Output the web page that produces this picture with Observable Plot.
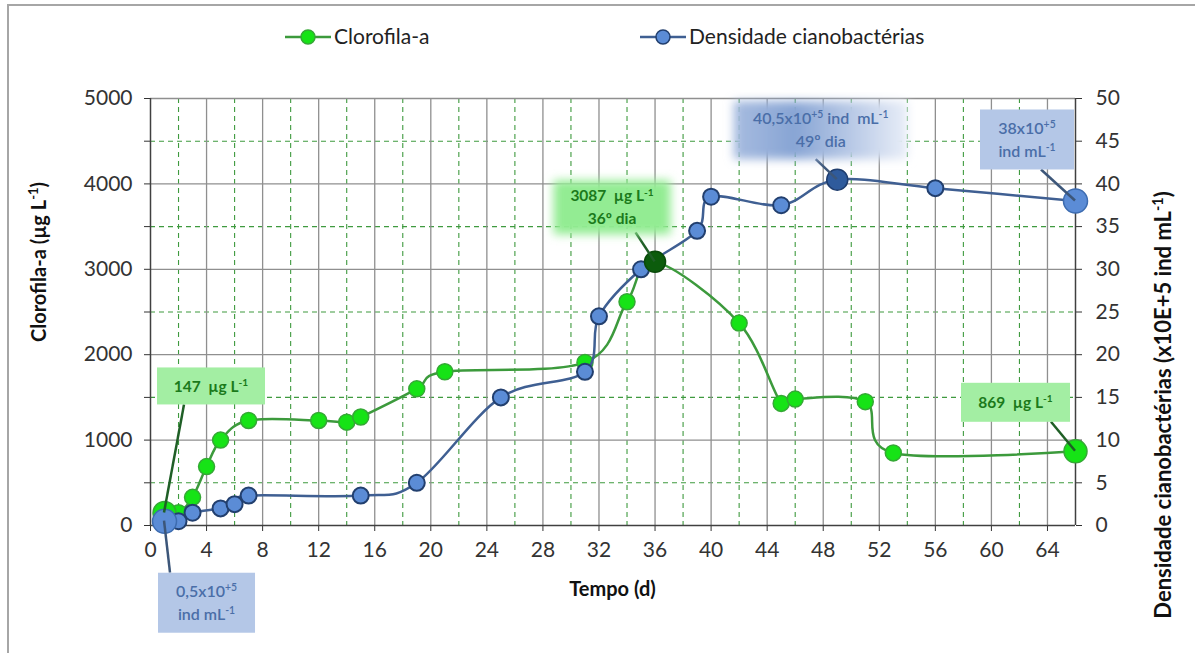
<!DOCTYPE html>
<html><head><meta charset="utf-8">
<script src="https://cdn.jsdelivr.net/npm/d3@7"></script>
<script src="https://cdn.jsdelivr.net/npm/@observablehq/plot@0.6"></script>
<style>
body{margin:0;background:#fff;}
#wrap{position:relative;width:1195px;height:653px;overflow:hidden;font-family:Lato,sans-serif;background:#fff;}
#frame{position:absolute;left:7px;top:4px;width:1300px;height:800px;border-left:2px solid #a6a6a6;border-top:2px solid #a6a6a6;}
#chart{position:absolute;left:0;top:0;}
</style></head><body>
<div id="wrap"><div id="frame"></div><div id="chart"></div></div>
<script>
// ---- data ----
const chlDays = [1, 2, 3, 4, 5, 7, 12, 14, 15, 19, 21, 31, 34, 36, 42, 45, 46, 51, 53, 66];
const chlValues = [147, 150, 330, 690, 1000, 1230, 1230, 1210, 1270, 1600, 1800, 1910, 2620, 3087, 2370, 1430, 1480, 1450, 850, 869];
const cyDays = [1, 2, 3, 5, 6, 7, 15, 19, 25, 31, 32, 35, 39, 40, 45, 49, 56, 66];
const cyValues = [0.5, 0.5, 1.5, 2, 2.5, 3.5, 3.5, 5, 15, 18, 24.5, 30, 34.5, 38.5, 37.5, 40.5, 39.5, 38];
const xTicks = [0, 4, 8, 12, 16, 20, 24, 28, 32, 36, 40, 44, 48, 52, 56, 60, 64];
const xMinor = [2, 6, 10, 14, 18, 22, 26, 30, 34, 38, 42, 46, 50, 54, 58, 62];
const yLeftTicks = [0, 1000, 2000, 3000, 4000, 5000];
const yLeftMinor = [500, 1500, 2500, 3500, 4500];
const yRightTicks = [0, 5, 10, 15, 20, 25, 30, 35, 40, 45, 50];
const seriesNames = ["Clorofila-a", "Densidade cianobactérias"];
const chlBig = [1, 66], chlPeak = [36];
const cyBig = [1, 66], cyPeak = [49];
const notes = [
  {series: "chl", day: 1, lines: ["147  µg L^{-1}"]},
  {series: "chl", day: 36, lines: ["3087  µg L^{-1}", "36º dia"]},
  {series: "cy", day: 49, lines: ["40,5x10^{+5} ind  mL^{-1}", "49º dia"]},
  {series: "cy", day: 66, lines: ["38x10^{+5}", "ind mL^{-1}"]},
  {series: "cy", day: 1, lines: ["0,5x10^{+5}", "ind mL^{-1}"]},
  {series: "chl", day: 66, lines: ["869  µg L^{-1}"]}
];
const K = 100; // right axis (0–50) mapped onto left axis (0–5000)

const chl = chlDays.map((d, i) => ({day: d, v: chlValues[i], raw: chlValues[i]}));
const cy = cyDays.map((d, i) => ({day: d, v: cyValues[i] * K, raw: cyValues[i]}));

const G_LINE = "#3c9a3c", G_FILL = "#16e316", G_STROKE = "#35a835";
const B_LINE = "#3f5f92", B_FILL = "#5b8cd6", B_STROKE = "#223f6e";

const plot = Plot.plot({
  width: 1195, height: 653,
  marginLeft: 150, marginRight: 120, marginTop: 98, marginBottom: 128,
  x: {domain: [0, 66]},
  y: {domain: [0, 5000]},
  style: {fontFamily: "Lato, sans-serif", fontSize: "21px", color: "#333", background: "transparent", overflow: "visible"},
  marks: [
    Plot.ruleX(xMinor, {stroke: "#3f9a3f", strokeWidth: 1.1, strokeDasharray: "5,4"}),
    Plot.ruleY(yLeftMinor, {stroke: "#3f9a3f", strokeWidth: 1.1, strokeDasharray: "5,4"}),
    Plot.ruleX(xTicks.filter(d => d > 0), {stroke: "#8f8f8f", strokeWidth: 1.3}),
    Plot.ruleY(yLeftTicks.filter(d => d > 0), {stroke: "#8f8f8f", strokeWidth: 1.3}),
    Plot.axisX({ticks: xTicks, tickSize: 6, tickPadding: 11, label: null, fontSize: 21}),
    Plot.axisY({ticks: [...yLeftTicks, ...yLeftMinor], tickFormat: d => d % 1000 ? "" : String(d), tickSize: 6, tickPadding: 12, label: null, fontSize: 21}),
    Plot.axisY({anchor: "right", ticks: yRightTicks.map(d => d * K), tickFormat: d => String(d / K), tickSize: 6, tickPadding: 14, label: null, fontSize: 21}),
    Plot.ruleX([0, 66], {stroke: "#404040", strokeWidth: 1.5}),
    Plot.ruleY([0], {stroke: "#404040", strokeWidth: 1.5}),
    Plot.line(chl, {x: "day", y: "v", curve: "cardinal", stroke: G_LINE, strokeWidth: 2.5}),
    Plot.dot(chl, {filter: d => !chlBig.includes(d.day) && !chlPeak.includes(d.day), x: "day", y: "v", r: 8, fill: G_FILL, stroke: G_STROKE, strokeWidth: 1.5}),
    Plot.dot(chl, {filter: d => chlBig.includes(d.day), x: "day", y: "v", r: 11.5, fill: G_FILL, stroke: G_STROKE, strokeWidth: 1.5}),
    Plot.line(cy, {x: "day", y: "v", curve: "cardinal", stroke: B_LINE, strokeWidth: 2.5}),
    Plot.dot(cy, {filter: d => !cyBig.includes(d.day) && !cyPeak.includes(d.day), x: "day", y: "v", r: 8, fill: B_FILL, stroke: B_STROKE, strokeWidth: 2}),
    Plot.dot(cy, {filter: d => cyBig.includes(d.day), x: "day", y: "v", r: 12, fill: B_FILL, stroke: "#3d6cb0", strokeWidth: 1.5}),
    Plot.dot(cy, {filter: d => cyPeak.includes(d.day), x: "day", y: "v", r: 10.5, fill: "#2f5b9c", stroke: "#1f3d6e", strokeWidth: 1.5}),
    Plot.dot(chl, {filter: d => chlPeak.includes(d.day), x: "day", y: "v", r: 10.5, fill: "#0c5c0c", stroke: "#0a4a0a", strokeWidth: 1.5})
  ]
});
document.getElementById("chart").appendChild(plot);

const svg = d3.select(plot);
const sx = plot.scale("x"), sy = plot.scale("y");

function rich(textSel, str, fs) {
  const parts = str.split(/(\^\{[^}]*\})/).filter(p => p.length);
  let shifted = false;
  parts.forEach(p => {
    if (p.startsWith("^{")) {
      textSel.append("tspan").attr("font-size", fs * 0.65).attr("dy", -fs * 0.38).text(p.slice(2, -1));
      shifted = true;
    } else {
      const t = textSel.append("tspan").text(p);
      if (shifted) { t.attr("dy", fs * 0.38); shifted = false; }
    }
  });
}

// defs
const defs = svg.append("defs");
defs.append("filter").attr("id", "soft").attr("x", "-30%").attr("y", "-40%").attr("width", "160%").attr("height", "180%")
  .append("feGaussianBlur").attr("stdDeviation", 5);
const lg = defs.append("linearGradient").attr("id", "bluegrad").attr("x1", 0).attr("x2", 1).attr("y1", 0).attr("y2", 0);
lg.append("stop").attr("offset", 0).attr("stop-color", "#a7bce0");
lg.append("stop").attr("offset", 0.35).attr("stop-color", "#87a4d4");
lg.append("stop").attr("offset", 1).attr("stop-color", "#e9eef8");

// axis titles
const ttl = svg.append("g").attr("font-weight", "bold").attr("fill", "#111").attr("text-anchor", "middle");
rich(ttl.append("text").attr("transform", "translate(46,262) rotate(-90)").attr("font-size", 20), "Clorofila-a (µg L^{-1})", 20);
rich(ttl.append("text").attr("transform", "translate(1171,405) rotate(-90)").attr("font-size", 22), "Densidade cianobactérias (x10E+5 ind mL^{-1})", 22);
ttl.append("text").attr("x", (sx.apply(0) + sx.apply(66)) / 2).attr("y", 596).attr("font-size", 20).text("Tempo (d)");

// legend
const leg = svg.append("g").attr("font-size", 21).attr("fill", "#222").attr("text-anchor", "start");
[[285, G_LINE, G_FILL, G_STROKE], [640, B_LINE, B_FILL, B_STROKE]].forEach(([x0, lc, fc, sc], i) => {
  leg.append("line").attr("x1", x0).attr("x2", x0 + 46).attr("y1", 37).attr("y2", 37).attr("stroke", lc).attr("stroke-width", 2.5);
  leg.append("circle").attr("cx", x0 + 23).attr("cy", 37).attr("r", 7).attr("fill", fc).attr("stroke", sc).attr("stroke-width", 1.5);
  leg.append("text").attr("x", x0 + 49).attr("y", 44).text(seriesNames[i]);
});

// callout layout (box offset from anchor point, size, leader attach point within box)
const layout = [
  {dx: -7, dy: -145, w: 108, h: 37, lx: 27, ly: 37, fill: "#a3eea3", soft: false, fs: 15.5},
  {dx: -101, dy: -81, w: 117, h: 54, lx: 82, ly: 52, fill: "#93ec93", soft: true, fs: 15.5},
  {dx: -103, dy: -78, w: 174, h: 58, lx: 82, ly: 58, fill: "url(#bluegrad)", soft: true, fs: 16},
  {dx: -95, dy: -91, w: 94, h: 60, lx: 61, ly: 60, fill: "#b4c7e7", soft: false, fs: 16},
  {dx: -6, dy: 52, w: 97, h: 60, lx: 12, ly: 0, fill: "#b4c7e7", soft: false, fs: 16},
  {dx: -114, dy: -68, w: 109, h: 39, lx: 90, ly: 39, fill: "#a3eea3", soft: false, fs: 15.5}
];
const ann = svg.append("g");
notes.forEach((n, i) => {
  const L = layout[i];
  const src = n.series === "chl" ? chl : cy;
  const pt = src.find(d => d.day === n.day);
  const ax = sx.apply(pt.day), ay = sy.apply(pt.v);
  const bx = ax + L.dx, by = ay + L.dy;
  const green = n.series === "chl";
  ann.append("line").attr("x1", ax).attr("y1", ay).attr("x2", bx + L.lx).attr("y2", by + L.ly)
    .attr("stroke", green ? "#1f5f26" : "#3c5679").attr("stroke-width", 2.5);
  const r = ann.append("rect").attr("x", bx).attr("y", by).attr("width", L.w).attr("height", L.h).attr("fill", L.fill);
  if (L.soft) r.attr("filter", "url(#soft)");
  const fs = L.fs, lh = 23;
  const cx = bx + L.w / 2, cy0 = by + L.h / 2 - (n.lines.length - 1) * lh / 2;
  n.lines.forEach((s, j) => {
    const t = ann.append("text").attr("x", cx).attr("y", cy0 + j * lh + fs * 0.36)
      .attr("text-anchor", "middle").attr("font-size", fs).attr("font-weight", green ? "bold" : 600)
      .attr("fill", green ? "#1b7a1b" : "#4a6ea8").style("white-space", "pre");
    rich(t, s, fs);
  });
});
</script>
</body></html>
